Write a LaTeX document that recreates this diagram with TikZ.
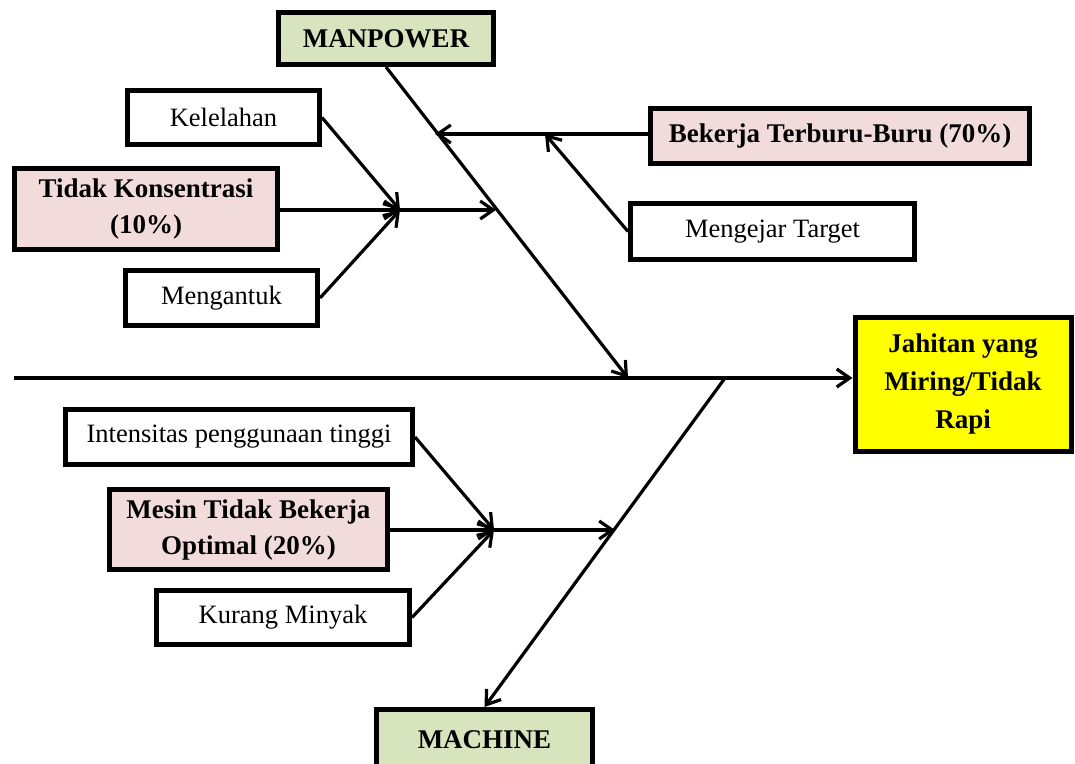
\documentclass[tikz,border=0pt]{standalone}
\usepackage{fontspec}
\setmainfont{Liberation Serif}
\usetikzlibrary{arrows.meta}
\definecolor{boneGreen}{HTML}{D7E4BD}
\definecolor{causePink}{HTML}{F2DCDB}
\definecolor{effectYellow}{HTML}{FFFF00}
\begin{document}
\begin{tikzpicture}[x=1pt,y=-1pt,
  box/.style={draw=black,line width=5pt,fill=white,align=center,inner sep=0pt,
              font=\fontsize{26.5}{35}\selectfont},
  boldbox/.style={box,font=\fontsize{27}{36}\selectfont\bfseries},
  arr/.style={line width=3.2pt,-{Straight Barb[length=13pt,width=18pt]}}]
\useasboundingbox (0,0) rectangle (1075,763);

% category heads and the effect
\node[boldbox,fill=boneGreen,minimum width=215,minimum height=52] (mp) at (386,38.5) {MANPOWER};
\node[boldbox,fill=boneGreen,minimum width=216,minimum height=60] (mac) at (484.5,739.5) {MACHINE};
\node[boldbox,fill=effectYellow,minimum width=216,minimum height=134,font=\fontsize{27}{38}\selectfont\bfseries] (jah) at (963,384) {Jahitan yang\\Miring/Tidak\\Rapi};

% causes under MANPOWER
\node[box,minimum width=192,minimum height=54] (kel) at (223.5,117.5) {Kelelahan};
\node[boldbox,fill=causePink,minimum width=263,minimum height=81] (tk) at (146,209) {Tidak Konsentrasi\\(10\%)};
\node[box,minimum width=192,minimum height=55] (men) at (221.5,298) {Mengantuk};
\node[boldbox,fill=causePink,minimum width=379,minimum height=55] (bek) at (840,136) {Bekerja Terburu-Buru (70\%)};
\node[box,minimum width=284,minimum height=56] (mt) at (772.5,231.5) {Mengejar Target};

% causes under MACHINE
\node[box,minimum width=347,minimum height=55] (int) at (239,437) {Intensitas penggunaan tinggi};
\node[boldbox,fill=causePink,minimum width=278,minimum height=80] (mes) at (248.5,529.5) {Mesin Tidak Bekerja\\Optimal (20\%)};
\node[box,minimum width=253,minimum height=54] (kur) at (283,617.5) {Kurang Minyak};

% junction points
\coordinate (tail) at (14,378);
\coordinate (mpfoot) at (628,378);
\coordinate (macroot) at (725,378);
\coordinate (tkjoin) at (400,210);
\coordinate (tkbone) at (496,210);
\coordinate (bekbone) at (435,134);
\coordinate (mtjoin) at (545,134);
\coordinate (mesjoin) at (494,530);
\coordinate (mesbone) at (615,530);

% spine and main bones
\draw[arr] (tail) -- (tail -| jah.west);
\draw[arr] (mp.south) -- (mpfoot);
\draw[arr] (macroot) -- (mac.north);

% MANPOWER branches
\draw[arr] (kel.east) -- (tkjoin);
\draw[arr] (men.east) -- (tkjoin);
\draw[arr] (tk.east |- tkjoin) -- (tkjoin);
\draw[arr] (tkjoin) -- (tkbone);
\draw[arr] (bek.west |- bekbone) -- (bekbone);
\draw[arr] (mt.west) -- (mtjoin);

% MACHINE branches
\draw[arr] (int.east) -- (mesjoin);
\draw[arr] (kur.east) -- (mesjoin);
\draw[arr] (mes.east |- mesjoin) -- (mesjoin);
\draw[arr] (mesjoin) -- (mesbone);
\end{tikzpicture}
\end{document}
